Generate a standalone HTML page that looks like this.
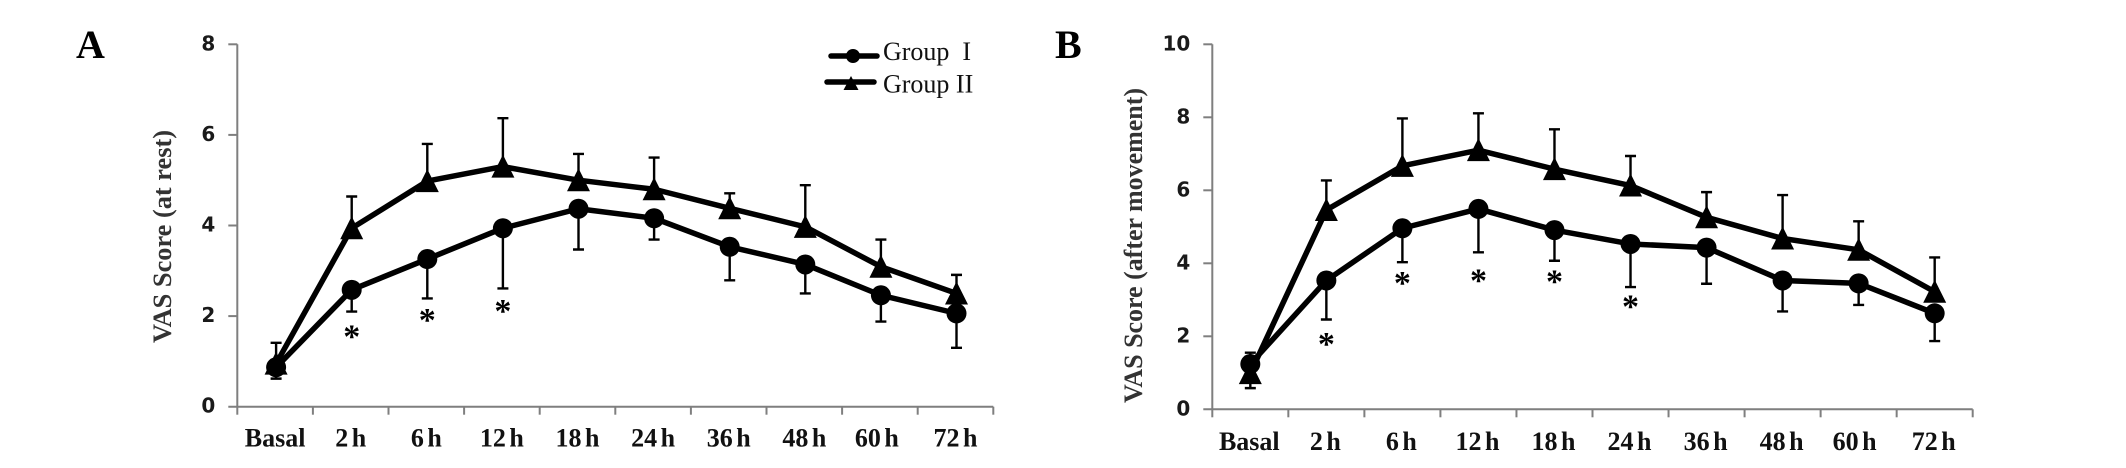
<!DOCTYPE html>
<html lang="en">
<head>
<meta charset="utf-8">
<title>VAS Score charts</title>
<style>
html,body{margin:0;padding:0;background:#fff;width:2126px;height:468px;overflow:hidden}
svg{display:block}
text{fill:#000}
.ser{font-family:"Liberation Serif",serif}
.tick{font-family:"DejaVu Sans","Liberation Sans",sans-serif;font-weight:700;font-size:20px;fill:#1a1a1a}
.xl{font-family:"Liberation Serif",serif;font-weight:700;font-size:26px;word-spacing:-3px;fill:#111}
.yt{font-family:"Liberation Serif",serif;font-weight:700;font-size:26px;fill:#333}
.pl{font-family:"Liberation Serif",serif;font-weight:700;font-size:40px}
.lg{font-family:"Liberation Serif",serif;font-size:26px;white-space:pre;fill:#111}
.ast{font-family:"Liberation Serif",serif;font-weight:700;font-size:34px}
</style>
</head>
<body>
<svg id="figure" width="2126" height="468" viewBox="0 0 2126 468" xmlns="http://www.w3.org/2000/svg">
  <text class="pl" x="76" y="58">A</text>
  <text class="pl" x="1055" y="58">B</text>
  <g id="panel-a"></g>
  <g id="panel-b"></g>
  <text class="yt" x="0" y="0" transform="translate(171,236.5) rotate(-90)" text-anchor="middle" textLength="213" lengthAdjust="spacingAndGlyphs">VAS Score (at rest)</text>
  <text class="yt" x="0" y="0" transform="translate(1142,245.5) rotate(-90)" text-anchor="middle" textLength="315" lengthAdjust="spacingAndGlyphs">VAS Score (after movement)</text>
  <g>
    <g>
      <line x1="831" y1="56" x2="877" y2="56" stroke="#000" stroke-width="5.5" stroke-linecap="round"></line>
      <circle cx="853" cy="56" r="7" fill="#000"></circle>
      <text class="lg" x="883" y="60">Group  I</text>
    </g>
    <g>
      <line x1="827" y1="82" x2="874" y2="82" stroke="#000" stroke-width="5.5" stroke-linecap="round"></line>
      <polygon points="851,76 858.5,90 843.5,90" fill="#000"></polygon>
      <text class="lg" x="883" y="92.5">Group II</text>
    </g>
  </g>
</svg>
<script>
const categories = ["Basal","2 h","6 h","12 h","18 h","24 h","36 h","48 h","60 h","72 h"];

const panelATicks = [0,2,4,6,8];
const panelAGroup1 = [0.87,2.58,3.26,3.94,4.37,4.16,3.53,3.14,2.46,2.06];
const panelAGroup2 = [0.95,3.94,4.98,5.30,5.00,4.80,4.38,3.97,3.09,2.50];
const panelAGroup1Lower = [0.62,2.10,2.39,2.61,3.47,3.69,2.79,2.50,1.88,1.30];
const panelAGroup2Upper = [1.41,4.64,5.80,6.37,5.58,5.50,4.71,4.89,3.69,2.91];
const panelAStars = [null,1.66,2.02,2.22,null,null,null,null,null,null];

const panelBTicks = [0,2,4,6,8,10];
const panelBGroup1 = [1.24,3.53,4.96,5.49,4.91,4.53,4.43,3.53,3.45,2.63];
const panelBGroup2 = [0.99,5.46,6.67,7.10,6.58,6.13,5.26,4.68,4.37,3.22];
const panelBGroup1Lower = [0.58,2.46,4.03,4.30,4.07,3.35,3.44,2.68,2.86,1.87];
const panelBGroup2Upper = [1.55,6.27,7.97,8.11,7.67,6.94,5.95,5.87,5.15,4.16];
const panelBStars = [null,1.92,3.60,3.66,3.64,2.95,null,null,null,null];

const NS = "http://www.w3.org/2000/svg";
function make(parent, tag, attrs, txt) {
  const el = document.createElementNS(NS, tag);
  for (const k in attrs) el.setAttribute(k, attrs[k]);
  if (txt !== undefined) el.textContent = txt;
  parent.appendChild(el);
  return el;
}

function drawPanel(root, g, o) {
  const n = categories.length;
  const step = (o.right - o.left) / n;
  const xCat = i => o.left + (i + 0.5) * step;
  const xMark = i => xCat(i) + o.markOffset;
  const y = v => o.bottom - (v / o.max) * (o.bottom - o.top);
  const axisColor = "#7f7f7f";

  const yAxis = make(g, "line", {x1:o.left, y1:o.top, x2:o.left, y2:o.bottom, stroke:axisColor, "stroke-width":2});
  
  
  const xAxis = make(g, "line", {x1:o.left-9, y1:o.bottom, x2:o.right, y2:o.bottom, stroke:axisColor, "stroke-width":2});
  
  

  o.ticks.forEach(t => {
    if (t !== 0) {
      const tk = make(g, "line", {x1:o.left-9, y1:y(t), x2:o.left, y2:y(t), stroke:axisColor, "stroke-width":2});
      
      
    }
    const lb = make(g, "text", {class:"tick", x:o.left-22, y:y(t)+6, "text-anchor":"end"}, t);
    
    
  });

  for (let i = 0; i <= n; i++) {
    const tk = make(g, "line", {x1:o.left+i*step, y1:o.bottom, x2:o.left+i*step, y2:o.bottom+8, stroke:axisColor, "stroke-width":2});
    
    
  }

  categories.forEach((c, i) => {
    const nudge = o.labelOffset + (i === 8 ? -3 : 0);
    const lb = make(g, "text", {class:"xl", x:xCat(i)+nudge, y:o.labelY, "text-anchor":"middle"}, c);
    
    
  });

  o.group2Upper.forEach((v, i) => {
    const x = xMark(i);
    const bar = make(g, "path", {d:`M${x} ${y(o.group2[i])}V${y(v)}M${x-5.5} ${y(v)}H${x+5.5}`, stroke:"#000", "stroke-width":2.4, fill:"none"});
    
    
  });
  o.group1Lower.forEach((v, i) => {
    const x = xMark(i);
    const bar = make(g, "path", {d:`M${x} ${y(o.group1[i])}V${y(v)}M${x-5.5} ${y(v)}H${x+5.5}`, stroke:"#000", "stroke-width":2.4, fill:"none"});
    
    
  });

  const line2 = make(g, "polyline", {points:o.group2.map((v,i)=>xMark(i)+","+y(v)).join(" "), fill:"none", stroke:"#000", "stroke-width":5.5, "stroke-linejoin":"round"});
  
  
  o.group2.forEach((v, i) => {
    const x = xMark(i), yy = y(v);
    const tri = make(g, "polygon", {points:`${x},${yy-12} ${x+11.5},${yy+11} ${x-11.5},${yy+11}`, fill:"#000"});
    
    
  });

  const line1 = make(g, "polyline", {points:o.group1.map((v,i)=>xMark(i)+","+y(v)).join(" "), fill:"none", stroke:"#000", "stroke-width":5.5, "stroke-linejoin":"round"});
  
  
  o.group1.forEach((v, i) => {
    const c = make(g, "circle", {cx:xMark(i), cy:y(v), r:10, fill:"#000"});
    
    
  });

  o.stars.forEach((v, i) => {
    if (v === null) return;
    const s = make(g, "text", {class:"ast", x:xMark(i), y:y(v)+16, "text-anchor":"middle"}, "*");
    
    
  });
}

drawPanel("panel-a", document.getElementById("panel-a"), {
  left:237.3, right:993.3, top:44.3, bottom:406.7, max:8, markOffset:1, labelOffset:0, labelY:446.5,
  ticks:panelATicks, group1:panelAGroup1, group2:panelAGroup2,
  group1Lower:panelAGroup1Lower, group2Upper:panelAGroup2Upper, stars:panelAStars
});
drawPanel("panel-b", document.getElementById("panel-b"), {
  left:1212.3, right:1972.7, top:44.3, bottom:409.3, max:10, markOffset:0, labelOffset:-1, labelY:450,
  ticks:panelBTicks, group1:panelBGroup1, group2:panelBGroup2,
  group1Lower:panelBGroup1Lower, group2Upper:panelBGroup2Upper, stars:panelBStars
});
</script>
</body>
</html>
